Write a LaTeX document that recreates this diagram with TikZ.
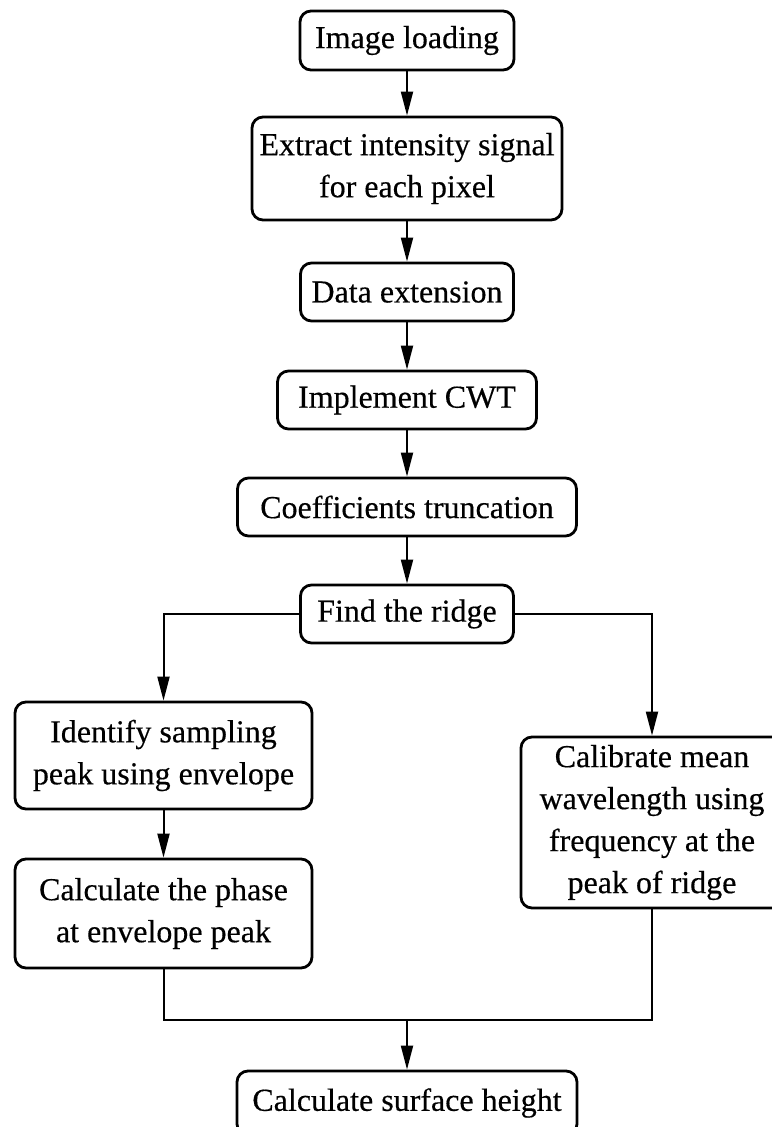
\documentclass[tikz,border=0pt]{standalone}
\usepackage{fontspec}
\setmainfont{Liberation Serif}[FakeBold=0.4]
\usetikzlibrary{arrows.meta}
\begin{document}
\begin{tikzpicture}[x=1pt,y=-1pt,
  stepbox/.style={draw, line width=2.8pt, rounded corners=11pt, align=center,
    inner sep=0pt, font=\fontsize{32}{42}\selectfont},
  link/.style={line width=2pt},
  arr/.style={link, -{Triangle[length=24pt,width=12pt]}}]
\useasboundingbox (0,0) rectangle (771,1127);
% main column
\node[stepbox, minimum width=214pt, minimum height=59pt] (load) at (407,40.5) {Image loading};
\node[stepbox, minimum width=310pt, minimum height=103pt] (extract) at (407,168.5) {Extract intensity signal\\for each pixel};
\node[stepbox, minimum width=213pt, minimum height=58pt] (ext) at (407,292) {Data extension};
\node[stepbox, minimum width=259pt, minimum height=58pt] (cwt) at (407,400) {Implement CWT};
\node[stepbox, minimum width=339pt, minimum height=58pt] (coef) at (407,507) {Coefficients truncation};
\node[stepbox, minimum width=213pt, minimum height=58pt] (ridge) at (407,614) {Find the ridge};
% left branch
\node[stepbox, minimum width=297pt, minimum height=107pt] (ident) at (163.5,755.5) {Identify sampling\\peak using envelope};
\node[stepbox, minimum width=297pt, minimum height=109pt] (phase) at (163.5,913.5) {Calculate the phase\\at envelope peak};
% right branch
\node[stepbox, minimum width=262pt, minimum height=171pt] (calib) at (652,822.5) {Calibrate mean\\wavelength using\\frequency at the\\peak of ridge};
% result
\node[stepbox, minimum width=340pt, minimum height=64pt] (height) at (407,1103) {Calculate surface height};
\coordinate (join) at (407,1020);
% connectors
\draw[arr] (load) -- (extract);
\draw[arr] (extract) -- (ext);
\draw[arr] (ext) -- (cwt);
\draw[arr] (cwt) -- (coef);
\draw[arr] (coef) -- (ridge);
\draw[arr] (ridge.west) -| (ident.north);
\draw[arr] (ridge.east) -| (calib.north);
\draw[arr] (ident) -- (phase);
\draw[link] (phase.south) |- (join) -| (calib.south);
\draw[arr] (join) -- (height.north);
\end{tikzpicture}
\end{document}
